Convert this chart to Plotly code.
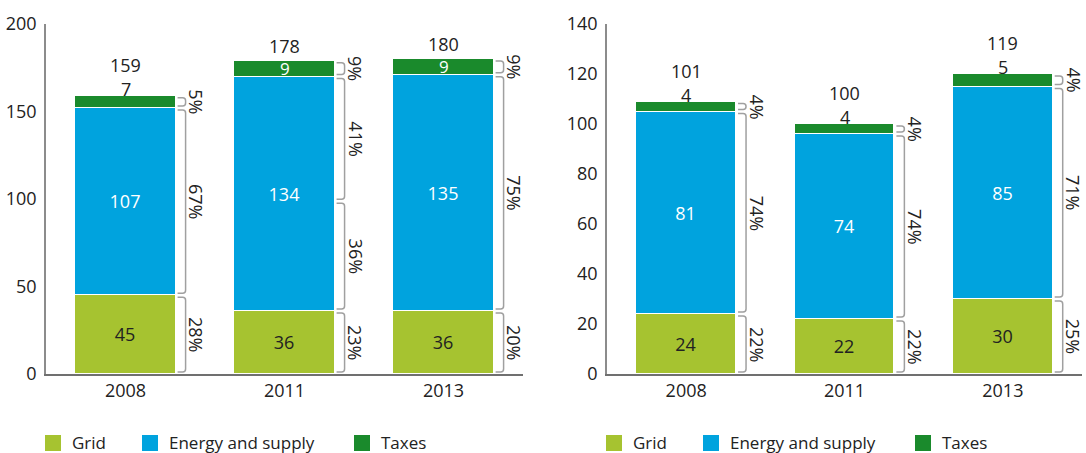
import plotly.graph_objects as go

# ---- data -------------------------------------------------------------
years = ["2008", "2011", "2013"]
series_names = ["Grid", "Energy and supply", "Taxes"]
series_colors = ["#a6c330", "#00a3de", "#1a8a2c"]

left_grid = [45, 36, 36]
left_energy = [107, 134, 135]
left_taxes = [7, 9, 9]
left_totals = [159, 178, 180]
# bracket shares per bar, bottom to top, and the segment each bracket covers
left_shares = [[28, 67, 5], [23, 36, 41, 9], [20, 75, 9]]
left_share_segments = [[0, 1, 2], [0, 1, 1, 2], [0, 1, 2]]

right_grid = [24, 22, 30]
right_energy = [81, 74, 85]
right_taxes = [4, 4, 5]
right_totals = [101, 100, 119]
right_shares = [[22, 74, 4], [22, 74, 4], [25, 71, 4]]
right_share_segments = [[0, 1, 2], [0, 1, 2], [0, 1, 2]]

# ---- layout constants -------------------------------------------------
W, H = 1086, 453
PLOT_TOP, PLOT_BOTTOM = 24, 374
PLOT_H = PLOT_BOTTOM - PLOT_TOP
FONT = "Open Sans"
DARK = "#222222"
BRACKET = "#a0a0a0"
BAR_W = 0.63

panels = [
    dict(xa="x", ya="y", dom=(46, 523), ymax=200, dtick=50,
         series=[left_grid, left_energy, left_taxes], totals=left_totals,
         shares=left_shares, segs=left_share_segments),
    dict(xa="x2", ya="y2", dom=(607, 1082), ymax=140, dtick=20,
         series=[right_grid, right_energy, right_taxes], totals=right_totals,
         shares=right_shares, segs=right_share_segments),
]


def bracket_spans(bounds, shares, segs):
    spans = []
    for s in range(3):
        idx = [j for j, sg in enumerate(segs) if sg == s]
        lo, hi = bounds[s], bounds[s + 1]
        tot = sum(shares[j] for j in idx)
        cur = lo
        for j in idx:
            nxt = cur + (hi - lo) * shares[j] / tot
            spans.append((cur, nxt, shares[j]))
            cur = nxt
    return spans


fig = go.Figure()
shapes, annotations = [], []
layout_axes = {}

for pi, p in enumerate(panels):
    xa, ya = p["xa"], p["ya"]
    px_x = (p["dom"][1] - p["dom"][0]) / 3.0
    px_y = PLOT_H / p["ymax"]
    grid, energy, taxes = p["series"]

    for k, (name, vals, color) in enumerate(zip(series_names, p["series"], series_colors)):
        fig.add_trace(go.Bar(
            x=[0, 1, 2], y=vals, width=BAR_W, name=name,
            marker=dict(color=color, line=dict(color="white", width=1)),
            text=[str(v) for v in vals] if k < 2 else None,
            textposition="inside" if k < 2 else "none",
            insidetextanchor="middle", constraintext="none",
            textfont=dict(family=FONT, size=18, color=DARK if k == 0 else "white"),
            cliponaxis=False, showlegend=False, hoverinfo="skip",
            xaxis=xa, yaxis=ya,
        ))

    for i in range(3):
        top = grid[i] + energy[i] + taxes[i]
        inside = taxes[i] * px_y >= 14
        if inside:
            annotations.append(dict(
                x=i, y=grid[i] + energy[i] + taxes[i] / 2, xref=xa, yref=ya,
                text=str(taxes[i]), showarrow=False, yanchor="middle",
                borderpad=0,
                font=dict(family=FONT, size=17, color="white")))
        else:
            annotations.append(dict(
                x=i, y=top, xref=xa, yref=ya, yshift=7,
                text=str(taxes[i]), showarrow=False, yanchor="middle",
                borderpad=0,
                font=dict(family=FONT, size=18, color=DARK)))
        annotations.append(dict(
            x=i, y=top, xref=xa, yref=ya, yshift=15 if inside else 31,
            text=str(p["totals"][i]), showarrow=False, yanchor="middle",
            borderpad=0,
            font=dict(family=FONT, size=18, color=DARK)))

        # brackets with share labels to the right of each bar
        bounds = [0, grid[i], grid[i] + energy[i], top]
        edge = i + BAR_W / 2
        x0 = edge + 2 / px_x
        x1 = edge + 10 / px_x
        rx, ry = 3 / px_x, 3 / px_y
        for lo, hi, share in bracket_spans(bounds, p["shares"][i], p["segs"][i]):
            yb, yt = lo + 2 / px_y, hi - 2 / px_y
            path = (f"M{x0},{yt} L{x1 - rx},{yt} Q{x1},{yt} {x1},{yt - ry} "
                    f"L{x1},{yb + ry} Q{x1},{yb} {x1 - rx},{yb} L{x0},{yb}")
            shapes.append(dict(type="path", path=path, xref=xa, yref=ya,
                               line=dict(color=BRACKET, width=1.5)))
            annotations.append(dict(
                x=edge + 21 / px_x, y=(lo + hi) / 2, xref=xa, yref=ya,
                text=f"{share}%", showarrow=False, textangle=90,
                xanchor="center", yanchor="middle", borderpad=0,
                font=dict(family=FONT, size=18, color=DARK)))

    # legend drawn below each panel
    for k, (name, color) in enumerate(zip(series_names, series_colors)):
        sx = p["dom"][0] - 1 + [0, 97, 309][k]
        shapes.append(dict(
            type="rect", xref="paper", yref="paper",
            x0=sx / W, x1=(sx + 16) / W,
            y0=(PLOT_BOTTOM - 451) / PLOT_H, y1=(PLOT_BOTTOM - 435) / PLOT_H,
            fillcolor=color, line=dict(width=0)))
        annotations.append(dict(
            x=(sx + 26) / W, y=(PLOT_BOTTOM - 442) / PLOT_H,
            xref="paper", yref="paper", xanchor="left", yanchor="middle",
            text=name, showarrow=False, borderpad=0,
            font=dict(family=FONT, size=17, color=DARK)))

    sfx = "" if pi == 0 else "2"
    layout_axes["xaxis" + sfx] = dict(
        domain=[p["dom"][0] / W, p["dom"][1] / W], range=[-0.5, 2.5],
        tickvals=[0, 1, 2], ticktext=years, ticks="",
        showline=True, linecolor="#707070", linewidth=1.5,
        showgrid=False, zeroline=False, fixedrange=True,
        tickfont=dict(family=FONT, size=18, color=DARK),
        anchor=ya,
    )
    layout_axes["yaxis" + sfx] = dict(
        domain=[0, 1], range=[0, p["ymax"]],
        tickvals=list(range(0, p["ymax"] + 1, p["dtick"])), ticks="",
        showline=True, linecolor="#8c8c8c", linewidth=1.5,
        showgrid=False, zeroline=False, fixedrange=True,
        ticklabelstandoff=4,
        tickfont=dict(family=FONT, size=18, color=DARK),
        anchor=xa,
    )

fig.update_layout(
    width=W, height=H,
    margin=dict(l=0, r=0, t=PLOT_TOP, b=H - PLOT_BOTTOM),
    barmode="stack", bargap=0,
    plot_bgcolor="white", paper_bgcolor="white",
    font=dict(family=FONT, color=DARK),
    shapes=shapes, annotations=annotations,
    showlegend=False,
    **layout_axes,
)

fig.write_html("out.html")
